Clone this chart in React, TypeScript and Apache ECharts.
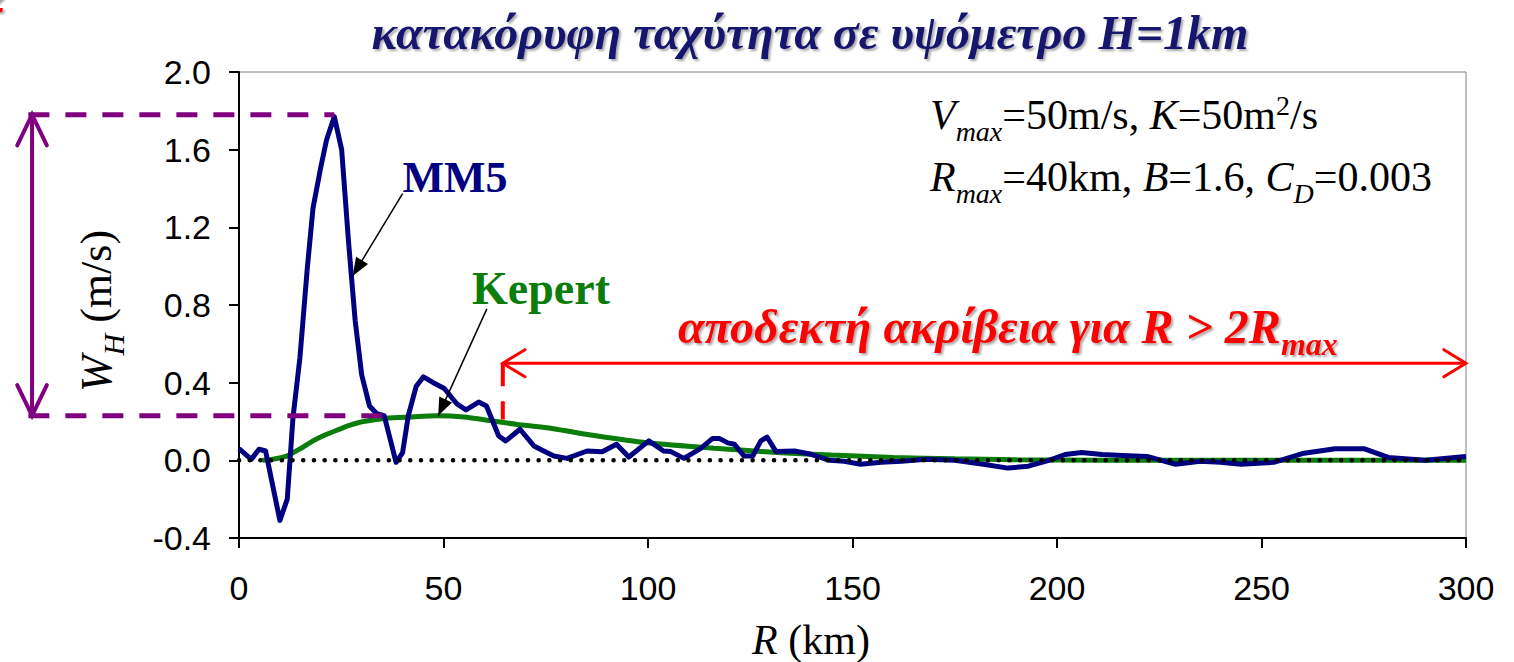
import { useEffect, useRef } from 'react'
import * as echarts from 'echarts'

// MM5 model: radius R (km) and vertical velocity W_H (m/s)
const mm5R = [0, 3, 4.9, 6.5, 10, 11.8, 13.2, 14.9, 16.7, 18.1, 20, 21.4, 23.3, 25.1, 26.8, 28.4, 30, 31.9, 33.7, 35.5, 38.4, 40, 41.4, 43.3, 45.1, 47.5, 50.2, 53.3, 55.5, 58.6, 60.5, 63.5, 65.2, 68.7, 72.1, 74.5, 77, 80.2, 85.1, 88.8, 92.3, 95.3, 100.2, 103.8, 105.6, 108.8, 112.9, 115.8, 117.4, 119.5, 121.1, 123.5, 125.6, 127.6, 129.1, 131.3, 135.8, 139.9, 144.4, 148, 152, 157, 162, 168, 175, 182, 188, 193, 198, 202, 206, 211, 216, 222, 229, 235, 240, 245, 253, 260, 268, 275, 281, 290, 300]
const mm5W = [0.06, 0.005, 0.057, 0.048, -0.31, -0.2, 0.22, 0.53, 0.99, 1.3, 1.51, 1.65, 1.77, 1.6, 1.12, 0.72, 0.44, 0.28, 0.24, 0.23, -0.01, 0.04, 0.23, 0.38, 0.43, 0.4, 0.37, 0.29, 0.26, 0.3, 0.28, 0.125, 0.1, 0.16, 0.074, 0.048, 0.022, 0.01, 0.048, 0.044, 0.083, 0.017, 0.1, 0.048, 0.045, 0.01, 0.062, 0.113, 0.113, 0.09, 0.083, 0.022, 0.022, 0.1, 0.12, 0.045, 0.048, 0.031, 0, -0.005, -0.02, -0.01, -0.005, 0.005, 0, -0.02, -0.04, -0.03, 0, 0.03, 0.04, 0.03, 0.025, 0.02, -0.02, -0.005, -0.01, -0.02, -0.01, 0.035, 0.06, 0.06, 0.015, 0, 0.02]

// Kepert analytical model
const kepertR = [5.7, 8, 11.6, 15, 18.1, 21, 23.9, 27, 30.4, 36.1, 41.7, 48.4, 55, 61.4, 68, 75.3, 87.6, 99.8, 116.2, 132.5, 144.8, 160, 175, 190, 210, 250, 300]
const kepertW = [0, 0.005, 0.022, 0.06, 0.1, 0.13, 0.155, 0.18, 0.2, 0.217, 0.223, 0.229, 0.223, 0.205, 0.185, 0.168, 0.125, 0.09, 0.062, 0.039, 0.027, 0.015, 0.008, 0.003, 0, 0, 0]

const zeroLineR = [0, 300]
const zeroLineW = [0, 0]

const xMin = 0
const xMax = 300
const xStep = 50
const yMin = -0.4
const yMax = 2.0
const yStep = 0.4

const serif = '"Liberation Serif", "Times New Roman", serif'
const sans = '"Liberation Sans", Arial, sans-serif'

export default function App() {
  const chartRef = useRef<HTMLDivElement>(null)

  useEffect(() => {
    document.body.style.margin = '0'
    if (!chartRef.current) return
    const chart = echarts.init(chartRef.current, null, { renderer: 'svg' })

    chart.setOption({
      animation: false,
      grid: {
        left: 239,
        top: 72,
        right: 48,
        bottom: 124,
        show: true,
        borderColor: '#808080',
        borderWidth: 1
      },
      xAxis: {
        type: 'value',
        min: xMin,
        max: xMax,
        interval: xStep,
        axisLine: { onZero: false, lineStyle: { color: '#000', width: 2 } },
        axisTick: { length: 10, lineStyle: { color: '#000', width: 2 } },
        axisLabel: { fontSize: 34, fontFamily: sans, color: '#000', margin: 33 },
        splitLine: { show: false }
      },
      yAxis: {
        type: 'value',
        min: yMin,
        max: yMax,
        interval: yStep,
        axisLine: { show: true, onZero: false, lineStyle: { color: '#000', width: 2 } },
        axisTick: { show: true, length: 10, lineStyle: { color: '#000', width: 2 } },
        axisLabel: {
          fontSize: 34,
          fontFamily: sans,
          color: '#000',
          margin: 28,
          formatter: (v: number) => (Math.abs(v) < 1e-9 ? 0 : v).toFixed(1)
        },
        splitLine: { show: false }
      },
      series: [
        {
          name: 'Kepert',
          type: 'line',
          data: kepertR.map((r, i) => [r, kepertW[i]]),
          showSymbol: false,
          smooth: 0.2,
          lineStyle: { color: '#0a7d0a', width: 5 }
        },
        {
          name: 'MM5',
          type: 'line',
          data: mm5R.map((r, i) => [r, mm5W[i]]),
          showSymbol: false,
          lineStyle: { color: '#000080', width: 5, join: 'round' }
        },
        {
          name: 'zero',
          type: 'line',
          data: zeroLineR.map((r, i) => [r, zeroLineW[i]]),
          showSymbol: false,
          lineStyle: { color: '#000', width: 4.5, type: [0.1, 10.6], cap: 'round' }
        }
      ]
    })

    const px = (r: number, w: number) => chart.convertToPixel({ gridIndex: 0 }, [r, w]) as number[]

    // open V arrow head
    const openHead = (tip: number[], from: number[], len: number, spread: number, color: string, width: number) => {
      const ang = Math.atan2(tip[1] - from[1], tip[0] - from[0]) + Math.PI
      return {
        type: 'polyline',
        z: 100,
        shape: {
          points: [
            [tip[0] + len * Math.cos(ang - spread), tip[1] + len * Math.sin(ang - spread)],
            tip,
            [tip[0] + len * Math.cos(ang + spread), tip[1] + len * Math.sin(ang + spread)]
          ]
        },
        style: { stroke: color, lineWidth: width, fill: null, lineCap: 'round', lineJoin: 'miter' }
      }
    }

    // filled arrow head
    const solidHead = (tip: number[], from: number[], len: number, half: number) => {
      const ang = Math.atan2(tip[1] - from[1], tip[0] - from[0])
      const bx = tip[0] - len * Math.cos(ang)
      const by = tip[1] - len * Math.sin(ang)
      return {
        type: 'polygon',
        z: 100,
        shape: {
          points: [
            tip,
            [bx + half * Math.sin(ang), by - half * Math.cos(ang)],
            [bx - half * Math.sin(ang), by + half * Math.cos(ang)]
          ]
        },
        style: { fill: '#000' }
      }
    }

    const line = (a: number[], b: number[], color: string, width: number, dash?: number[]) => ({
      type: 'line',
      z: 90,
      shape: { x1: a[0], y1: a[1], x2: b[0], y2: b[1] },
      style: { stroke: color, lineWidth: width, lineDash: dash }
    })

    const purple = '#800080'
    const red = '#ff0000'

    // purple range markers
    const pTopL = px(-51.5, 1.78)
    const pTopR = px(23.3, 1.78)
    const pBotL = px(-51.5, 0.23)
    const pBotR = px(36.5, 0.23)
    const vTop = px(-50.6, 1.78)
    const vBot = px(-50.6, 0.23)

    // red range arrow
    const rL = px(64.5, 0.5)
    const rR = px(300, 0.5)
    const rDashBot = px(64.5, 0.21)

    // pointer arrows
    const mm5From = px(40, 1.374)
    const mm5Tip = px(27.8, 0.95)
    const kepFrom = px(60.6, 0.78)
    const kepTip = px(48.7, 0.229)

    const shadow = { textShadowColor: 'rgba(0,0,0,0.35)', textShadowOffsetX: 2, textShadowOffsetY: 2, textShadowBlur: 2 }

    chart.setOption({
      graphic: [
        line(pTopL, pTopR, purple, 5, [21, 16]),
        line(pBotL, pBotR, purple, 5, [21, 16]),
        line(vTop, vBot, purple, 4),
        openHead(vTop, vBot, 34, 0.45, purple, 4),
        openHead(vBot, vTop, 34, 0.45, purple, 4),

        line(rL, rR, red, 3),
        openHead(rL, rR, 26, 0.55, red, 3),
        openHead(rR, rL, 26, 0.55, red, 3),
        line(rL, rDashBot, red, 4, [23, 15]),

        line(mm5From, mm5Tip, '#000', 1.5),
        solidHead(mm5Tip, mm5From, 18, 7),
        line(kepFrom, kepTip, '#000', 1.5),
        solidHead(kepTip, kepFrom, 18, 7),

        {
          type: 'text',
          z: 100,
          x: 810,
          y: 32,
          style: {
            text: 'κατακόρυφη ταχύτητα σε υψόμετρο H=1km',
            font: `italic bold 48px ${serif}`,
            fill: '#14146e',
            align: 'center',
            verticalAlign: 'middle',
            ...shadow
          }
        },
        {
          type: 'text',
          z: 100,
          x: 678,
          y: 360,
          style: {
            text: '{a|αποδεκτή ακρίβεια για R > 2R}{s|max}',
            align: 'left',
            verticalAlign: 'bottom',
            rich: {
              a: { font: `italic bold 48px ${serif}`, fill: red, verticalAlign: 'bottom', padding: [0, 0, 10, 0], ...shadow },
              s: { font: `italic bold 32px ${serif}`, fill: red, verticalAlign: 'bottom', ...shadow }
            }
          }
        },
        {
          type: 'text',
          z: 100,
          x: 455,
          y: 177,
          style: {
            text: 'MM5',
            font: `bold 44px ${serif}`,
            fill: '#000080',
            align: 'center',
            verticalAlign: 'middle'
          }
        },
        {
          type: 'text',
          z: 100,
          x: 541,
          y: 288,
          style: {
            text: 'Kepert',
            font: `bold 46px ${serif}`,
            fill: '#0a7d0a',
            align: 'center',
            verticalAlign: 'middle'
          }
        },
        {
          type: 'text',
          z: 100,
          x: 930,
          y: 145,
          style: {
            text: '{i|V}{s|max}{n|=50m/s, }{i|K}{n|=50m}{p|2}{n|/s}',
            align: 'left',
            verticalAlign: 'bottom',
            rich: {
              i: { font: `italic 42px ${serif}`, fill: '#000', verticalAlign: 'bottom', padding: [0, 0, 9, 0] },
              n: { font: `42px ${serif}`, fill: '#000', verticalAlign: 'bottom', padding: [0, 0, 9, 0] },
              s: { font: `italic 28px ${serif}`, fill: '#000', verticalAlign: 'bottom' },
              p: { font: `28px ${serif}`, fill: '#000', verticalAlign: 'bottom', padding: [0, 0, 26, 0] }
            }
          }
        },
        {
          type: 'text',
          z: 100,
          x: 930,
          y: 207,
          style: {
            text: '{i|R}{s|max}{n|=40km, }{i|B}{n|=1.6, }{i|C}{s|D}{n|=0.003}',
            align: 'left',
            verticalAlign: 'bottom',
            rich: {
              i: { font: `italic 42px ${serif}`, fill: '#000', verticalAlign: 'bottom', padding: [0, 0, 9, 0] },
              n: { font: `42px ${serif}`, fill: '#000', verticalAlign: 'bottom', padding: [0, 0, 9, 0] },
              s: { font: `italic 28px ${serif}`, fill: '#000', verticalAlign: 'bottom' }
            }
          }
        },
        {
          type: 'text',
          z: 100,
          x: 811,
          y: 661,
          style: {
            text: '{i|R}{n| (km)}',
            align: 'center',
            verticalAlign: 'bottom',
            rich: {
              i: { font: `italic 42px ${serif}`, fill: '#000', verticalAlign: 'bottom' },
              n: { font: `42px ${serif}`, fill: '#000', verticalAlign: 'bottom' }
            }
          }
        },
        {
          type: 'text',
          z: 100,
          x: 128,
          y: 311,
          rotation: Math.PI / 2,
          style: {
            text: '{i|W}{s|H}{n| (m/s)}',
            align: 'center',
            verticalAlign: 'bottom',
            rich: {
              i: { font: `italic 44px ${serif}`, fill: '#000', verticalAlign: 'bottom', padding: [0, 0, 10, 0] },
              s: { font: `italic 30px ${serif}`, fill: '#000', verticalAlign: 'bottom' },
              n: { font: `44px ${serif}`, fill: '#000', verticalAlign: 'bottom', padding: [0, 0, 10, 0] }
            }
          }
        },
        {
          type: 'text',
          z: 100,
          x: -14,
          y: -22,
          style: { text: '2', font: `italic bold 40px ${serif}`, fill: red, ...shadow }
        }
      ]
    })

    return () => {
      chart.dispose()
    }
  }, [])

  return <div ref={chartRef} style={{ width: 1514, height: 662 }} />
}
